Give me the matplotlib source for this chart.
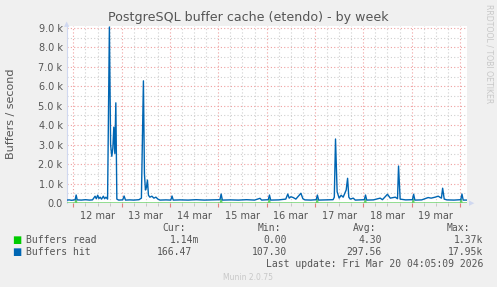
import matplotlib
matplotlib.use("Agg")
import matplotlib.pyplot as plt
from matplotlib.ticker import FixedLocator, FuncFormatter

# hours from 12 mar 00:00
hit_t = [-3.3, -2.0, -1.0, 0.0, 0.9, 1.4, 1.9, 4.0, 6.0, 8.0, 9.5, 10.8, 11.4, 12.1, 12.7,
         13.3, 14.0, 14.9, 15.5, 16.2, 17.0, 17.9, 18.5, 19.1, 19.6, 20.1, 20.6, 21.1,
         21.6, 22.5, 24.5, 25.2, 25.9, 28.0, 30.0, 32.6, 33.8, 34.8, 35.3, 35.8, 36.3,
         36.8, 37.3, 38.0, 39.0, 40.0, 41.0, 42.0, 43.0, 46.0, 48.4, 49.0, 49.6, 53.0,
         57.0, 61.0, 65.0, 69.0, 72.8, 73.4, 74.0, 78.0, 82.0, 86.0, 90.0, 92.7, 93.5,
         96.8, 97.4, 98.0, 102.0, 105.5, 106.5, 107.2, 108.0, 109.2, 110.5, 113.0, 114.0,
         115.0, 118.0, 120.6, 121.2, 121.8, 125.0, 129.0, 129.6, 130.2, 131.0, 132.0,
         133.0, 134.0, 135.5, 136.2, 136.8, 137.5, 139.0, 140.0, 144.5, 145.1, 145.7,
         149.0, 152.4, 153.5, 156.0, 157.4, 159.9, 161.0, 161.5, 162.3, 165.0, 168.4,
         169.0, 169.6, 173.0, 176.2, 177.7, 179.7, 181.2, 182.8, 183.4, 184.2, 185.5,
         189.0, 192.4, 193.0, 193.6, 195.6]
hit_v = [150, 160, 140, 150, 170, 410, 160, 150, 170, 150, 160, 350, 220, 400, 230,
         300, 200, 350, 220, 300, 200, 9050, 3000, 2400, 2800, 3900, 2550, 5150,
         200, 150, 160, 360, 150, 160, 150, 170, 250, 6280, 1500, 670, 800,
         1180, 400, 300, 350, 250, 300, 200, 150, 160, 150, 360, 150, 160,
         150, 170, 150, 160, 170, 460, 150, 160, 150, 170, 150, 240, 150,
         170, 410, 150, 160, 200, 460, 250, 320, 280, 200, 500, 220,
         160, 150, 170, 410, 150, 160, 170, 300, 3290, 580, 250,
         400, 300, 670, 1270, 300, 200, 250, 150, 170, 410, 150,
         160, 250, 170, 450, 250, 300, 220, 1900, 200, 160, 170,
         450, 150, 160, 280, 250, 300, 350, 250, 760, 200, 160,
         150, 170, 460, 150, 150]

read_t = [-3.3, 0.9, 1.3, 1.7, 73.0, 73.4, 73.8, 96.9, 97.3, 97.7, 120.7, 121.1, 121.5,
          144.6, 145.0, 145.4, 168.4, 168.8, 169.2, 192.2, 192.6, 193.0, 195.6]
read_v = [0, 0, 200, 0, 0, 200, 0, 0, 200, 0, 0, 200, 0,
          0, 200, 0, 0, 200, 0, 0, 200, 0, 0]

day_labels = ["12 mar", "13 mar", "14 mar", "15 mar", "16 mar", "17 mar", "18 mar", "19 mar"]

legend_names = ["Buffers read", "Buffers hit"]
cur = ["1.14m", "166.47"]
mins = ["0.00", "107.30"]
avgs = ["4.30", "297.56"]
maxs = ["1.37k", "17.95k"]
colors = ["#00cc00", "#0066b3"]

bg = "#f0f0f0"
txt = "#555555"

fig = plt.figure(figsize=(4.97, 2.87), dpi=100, facecolor=bg)
ax = fig.add_axes([66.7/497, 1-203/287, 400.5/497, 177/287])
ax.set_facecolor("white")

ax.plot(read_t, read_v, color="#66d066", lw=1, zorder=3)
ax.plot(hit_t, hit_v, color=colors[1], lw=1, zorder=4)

ax.set_xlim(-3.3, 195.6)
ax.set_ylim(0, 9100)

# grid
ax.xaxis.set_major_locator(FixedLocator([24*i for i in range(9)]))
ax.xaxis.set_minor_locator(FixedLocator([6*i for i in range(33) if i % 4]))
ax.yaxis.set_major_locator(FixedLocator([1000*i for i in range(10)]))
ax.yaxis.set_minor_locator(FixedLocator([500 + 1000*i for i in range(9)]))
ax.grid(which="major", color="#f0a0a0", ls=(0, (1, 2)), lw=0.8, zorder=1)
ax.grid(which="minor", color="#d0d0d0", ls=(0, (1, 2)), lw=0.8, zorder=1)
ax.tick_params(axis="x", which="major", colors="#e08080", length=3, labelbottom=False)
ax.tick_params(axis="x", which="minor", colors="#c0c0c0", length=2)
ax.tick_params(axis="y", which="both", length=0, labelsize=7, labelcolor=txt, pad=3)
ax.yaxis.set_major_formatter(FuncFormatter(lambda v, p: "0.0" if v == 0 else "%.1f k" % (v/1000)))

for s in ["top", "right", "bottom"]:
    ax.spines[s].set_visible(False)
ax.spines["left"].set_color("#d0d8f0")

for i, lab in enumerate(day_labels):
    ax.text(12 + 24*i, -0.045, lab, transform=ax.get_xaxis_transform(),
            ha="center", va="top", fontsize=7, color=txt)

# axis arrows
fig.text(67/497, 1-24/287, "\u25b2", fontsize=5, color="#d0d8f0", ha="center", va="center")
fig.text(472/497, 1-203/287, "\u25b6", fontsize=5, color="#d0d8f0", ha="center", va="center")

fig.text(248/497, 1-17/287, "PostgreSQL buffer cache (etendo) - by week",
         ha="center", va="center", fontsize=9.1, color=txt)
fig.text(11/497, 1-114/287, "Buffers / second", rotation=90,
         ha="center", va="center", fontsize=8, color=txt)
fig.text(489/497, 1-54/287, "RRDTOOL / TOBI OETIKER", rotation=270,
         ha="center", va="center", fontsize=5.6, color="#c8c8c8")

mono = "DejaVu Sans Mono"
heads = ["Cur:", "Min:", "Avg:", "Max:"]
head_x = [186, 281, 376, 470]
for h, x in zip(heads, head_x):
    fig.text(x/497, 1-228/287, h, ha="right", va="center", fontsize=7, family=mono, color=txt)

val_x = [[199, 287, 382, 483], [192, 287, 382, 483]]
for r in range(2):
    y = 1 - (240 + 12*r)/287
    fig.text(17/497, y, "\u25a0", ha="center", va="center", fontsize=7, color=colors[r])
    fig.text(26/497, y, legend_names[r], ha="left", va="center", fontsize=7, family=mono, color=txt)
    for v, x in zip([cur[r], mins[r], avgs[r], maxs[r]], val_x[r]):
        fig.text(x/497, y, v, ha="right", va="center", fontsize=7, family=mono, color=txt)

fig.text(483/497, 1-264/287, "Last update: Fri Mar 20 04:05:09 2026",
         ha="right", va="center", fontsize=7, family=mono, color=txt)
fig.text(248/497, 1-277/287, "Munin 2.0.75", ha="center", va="center", fontsize=5.5, color="#c8c8c8")

fig.savefig("out.png", dpi=100, facecolor=bg)
